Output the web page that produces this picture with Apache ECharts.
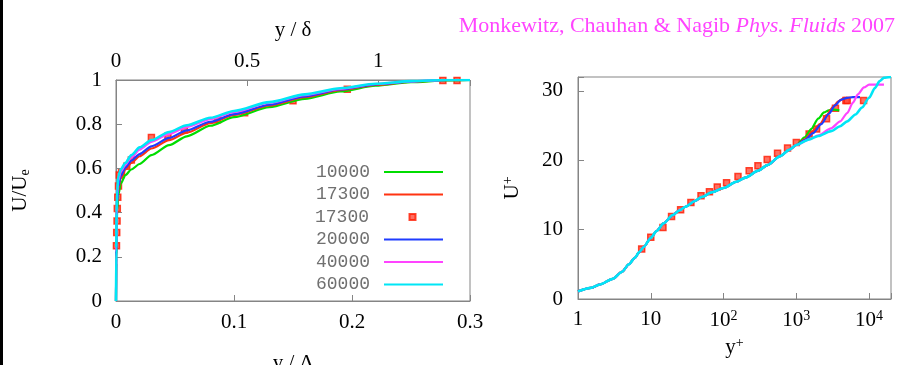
<!DOCTYPE html>
<html><head><meta charset="utf-8">
<script src="https://cdn.jsdelivr.net/npm/echarts@6/dist/echarts.min.js"></script>
<style>html,body{margin:0;padding:0;background:#fff}#c{width:899px;height:365px}</style>
</head><body><div id="c"></div>
<script>
// ---------- Left panel: U/Ue vs y/Delta ----------
const leftV = [0, 0.0002, 0.0005, 0.001, 0.002, 0.004, 0.008, 0.013, 0.02, 0.03, 0.045, 0.06, 0.08, 0.10, 0.13, 0.16, 0.19, 0.22, 0.25, 0.28, 0.30];
const leftU_10000 = [0, 0.17, 0.31, 0.41, 0.48, 0.53, 0.57, 0.595, 0.62, 0.66, 0.705, 0.745, 0.793, 0.832, 0.877, 0.915, 0.948, 0.974, 0.99, 0.998, 1.0];
const leftU_17300 = [0, 0.19, 0.34, 0.44, 0.51, 0.555, 0.595, 0.625, 0.655, 0.69, 0.728, 0.762, 0.805, 0.842, 0.885, 0.922, 0.954, 0.978, 0.992, 0.999, 1.0];
const leftU_20000 = [0, 0.2, 0.35, 0.45, 0.52, 0.565, 0.603, 0.635, 0.665, 0.70, 0.738, 0.772, 0.811, 0.846, 0.888, 0.926, 0.957, 0.98, 0.993, 1.0, 1.0];
const leftU_40000 = [0, 0.22, 0.38, 0.48, 0.545, 0.585, 0.617, 0.65, 0.685, 0.72, 0.756, 0.787, 0.823, 0.855, 0.896, 0.932, 0.96, 0.982, 0.994, 1.0, 1.0];
const leftU_60000 = [0, 0.24, 0.40, 0.50, 0.565, 0.595, 0.625, 0.66, 0.695, 0.728, 0.765, 0.795, 0.829, 0.86, 0.90, 0.935, 0.963, 0.983, 0.995, 1.0, 1.0];
const leftPtsV = [0.0004, 0.0006, 0.0009, 0.0011, 0.0015, 0.0021, 0.0028, 0.0047, 0.0091, 0.013, 0.030, 0.044, 0.058, 0.086, 0.109, 0.150, 0.196, 0.277, 0.289];
const leftPtsU = [0.25, 0.31, 0.362, 0.418, 0.469, 0.52, 0.57, 0.58, 0.61, 0.638, 0.74, 0.745, 0.774, 0.82, 0.852, 0.906, 0.958, 0.998, 0.998];
const leftBottomTicks = [0, 0.1, 0.2, 0.3];
const leftTopTicks = [0, 0.5, 1];
const leftYTicks = [0, 0.2, 0.4, 0.6, 0.8, 1];

// ---------- Right panel: U+ vs y+ ----------
const rightCommonY = [1, 1.5, 2, 3, 4, 5, 6, 7, 8, 10, 12, 15, 20, 25, 30, 40, 50, 70, 100, 150, 200, 300, 400, 600, 800];
const rightCommonU = [1.1, 1.6, 2.1, 2.9, 3.9, 5.0, 5.9, 6.8, 7.5, 8.8, 9.8, 10.9, 12.1, 12.8, 13.3, 14.1, 14.7, 15.4, 16.0, 16.9, 17.5, 18.5, 19.3, 20.6, 21.5];
const tailY_10000 = [1000, 1300, 1600, 2000, 2400, 2800, 3300, 3900];
const tailU_10000 = [22.2, 23.3, 24.5, 26.0, 26.9, 27.2, 27.3, 27.2];
const tailY_17300 = [1000, 1300, 1700, 2100, 2600, 3200, 3800, 4400, 5000];
const tailU_17300 = [22.2, 23.0, 24.2, 25.2, 26.5, 27.7, 28.5, 28.9, 29.0];
const tailY_20000 = [1000, 1300, 1700, 2200, 2800, 3400, 4100, 5000, 6000, 7500];
const tailU_20000 = [22.2, 22.9, 23.9, 25.2, 26.7, 27.9, 28.7, 29.0, 29.1, 29.1];
const tailY_40000 = [1000, 1500, 2000, 3000, 4000, 5000, 6000, 7000, 8500, 10000, 16000];
const tailU_40000 = [22.2, 23.0, 23.6, 24.6, 25.6, 26.8, 28.3, 29.5, 30.5, 30.9, 30.9];
const tailY_60000 = [1000, 1500, 2000, 3000, 4000, 5000, 6500, 8000, 10000, 12000, 14000, 16000, 20000];
const tailU_60000 = [22.2, 23.0, 23.5, 24.2, 24.9, 25.6, 26.6, 27.6, 29.0, 30.4, 31.4, 31.9, 32.0];
const rightPtsY = [7.5, 10, 14.7, 19.3, 25.7, 35.6, 49, 64, 82, 110, 158, 225, 297, 398, 552, 758, 1000, 1500, 1900, 2600, 3450, 4800, 5000, 8400];
const rightPtsU = [7.2, 8.9, 10.3, 11.9, 12.85, 13.9, 14.9, 15.45, 16.15, 16.75, 17.65, 18.5, 19.2, 20.1, 21.0, 21.75, 22.55, 23.8, 24.5, 26.0, 27.5, 28.6, 28.6, 28.6];
const rightYTicks = [0, 10, 20, 30];

const names = ['10000', '17300', '17300 pts', '20000', '40000', '60000'];
const colors = {'10000': '#00dd00', '17300': '#ff3311', '17300 pts': '#ff3311', '20000': '#1f3cff', '40000': '#ff44ff', '60000': '#00e6f6'};

function zip(a, b) { return a.map((v, i) => [v, b[i]]); }
function joinCurve(ty, tu) { return zip(rightCommonY.concat(ty), rightCommonU.concat(tu)); }

const serif = 'Liberation Serif';
const tickFont = {fontFamily: serif, fontSize: 21, color: '#000'};
const gray = '#858585';

function lineSeries(name, data, xi, yi, width, z) {
  return {type: 'line', name: name, xAxisIndex: xi, yAxisIndex: yi, data: data,
    showSymbol: false, symbol: 'none', smooth: 0.25, smoothMonotone: 'x', clip: true, z: z,
    lineStyle: {color: colors[name], width: width}, itemStyle: {color: colors[name]}};
}
function ptsSeries(data, xi, yi) {
  return {type: 'scatter', name: '17300 pts', xAxisIndex: xi, yAxisIndex: yi, data: data,
    symbol: 'rect', symbolSize: 6, z: 1,
    itemStyle: {color: '#ff4a3a', borderColor: '#ff1a00', borderWidth: 1.5}};
}

const supRich = {s: {fontFamily: serif, fontSize: 14, color: '#000', verticalAlign: 'top', padding: [0, 0, 9, 0]}};

const legendRows = [172, 194.5, 217, 239.5, 262, 284.5];
const legends = names.map((n, i) => {
  const isPts = n === '17300 pts';
  return {
    data: [n], orient: 'vertical', align: 'right', padding: 0,
    right: isPts ? 899 - 416.5 : 899 - 443,
    top: legendRows[i] - 11,
    itemWidth: isPts ? 6 : 59, itemHeight: isPts ? 6 : 2,
    icon: 'rect', selectedMode: false,
    formatter: () => n.split(' ')[0],
    textStyle: {fontFamily: 'Liberation Mono', fontSize: 18, color: '#707070', lineHeight: 22,
      padding: isPts ? [0, 35.5, 0, 0] : [0, 9, 0, 0]}
  };
});

const option = {
  backgroundColor: '#fff',
  animation: false,
  title: {
    text: '{n|Monkewitz, Chauhan & Nagib }{i|Phys. Fluids}{n| 2007}',
    right: 4, top: 15, padding: 0,
    textStyle: {fontWeight: 'normal', rich: {
      n: {fontFamily: serif, fontSize: 22, fontWeight: 'normal', color: '#ff44ff'},
      i: {fontFamily: serif, fontSize: 22, fontWeight: 'normal', fontStyle: 'italic', color: '#ff44ff'}
    }}
  },
  legend: legends,
  graphic: [{type: 'rect', left: 0, top: 0, shape: {width: 3, height: 365}, style: {fill: '#000'}}],
  grid: [
    {left: 116, top: 80, width: 354, height: 221, outerBoundsMode: 'none', containLabel: false, show: true, borderColor: gray, borderWidth: 1, backgroundColor: 'transparent'},
    {left: 578, top: 77, width: 313, height: 222, outerBoundsMode: 'none', containLabel: false, show: true, borderColor: gray, borderWidth: 1, backgroundColor: 'transparent'}
  ],
  xAxis: [
    {type: 'value', gridIndex: 0, position: 'bottom', min: 0, max: 0.3, interval: 0.1,
      axisLine: {show: true, lineStyle: {color: gray}}, axisTick: {inside: true, length: 6, lineStyle: {color: gray}},
      splitLine: {show: false},
      axisLabel: Object.assign({margin: 11, formatter: v => leftBottomTicks.some(t => Math.abs(t - v) < 1e-9) ? String(+v.toFixed(1)) : ''}, tickFont),
      name: 'y / Δ', nameLocation: 'middle', nameGap: 52, nameTextStyle: {fontFamily: serif, fontSize: 21, color: '#000'}},
    {type: 'value', gridIndex: 0, position: 'top', min: 0, max: 1.35, interval: 0.5,
      axisLine: {show: true, lineStyle: {color: gray}}, axisTick: {inside: true, length: 6, lineStyle: {color: gray}},
      splitLine: {show: false},
      axisLabel: Object.assign({margin: 8, formatter: v => leftTopTicks.some(t => Math.abs(t - v) < 1e-9) ? String(v) : ''}, tickFont),
      name: 'y / δ', nameLocation: 'middle', nameGap: 39, nameTextStyle: {fontFamily: serif, fontSize: 21, color: '#000'}},
    {type: 'log', gridIndex: 1, logBase: 10, min: 1, max: 20000,
      axisLine: {show: true, lineStyle: {color: gray}}, axisTick: {inside: true, length: 6, lineStyle: {color: gray}},
      splitLine: {show: false}, minorTick: {show: false},
      axisLabel: Object.assign({margin: 10, rich: supRich, formatter: v => {
        const e = Math.log10(v); const r = Math.round(e);
        if (Math.abs(e - r) > 1e-6) return '';
        if (r === 0) return '1';
        if (r === 1) return '10';
        return '10{s|' + r + '}';
      }}, tickFont),
      name: 'y{s|+}', nameLocation: 'middle', nameGap: 36,
      nameTextStyle: {fontFamily: serif, fontSize: 21, color: '#000', rich: supRich}}
  ],
  yAxis: [
    {type: 'value', gridIndex: 0, min: 0, max: 1, interval: 0.2,
      axisLine: {show: true, lineStyle: {color: gray}}, axisTick: {inside: true, length: 6, lineStyle: {color: gray}},
      splitLine: {show: false},
      axisLabel: Object.assign({margin: 14, formatter: v => leftYTicks.some(t => Math.abs(t - v) < 1e-9) ? String(+v.toFixed(1)) : ''}, tickFont),
      name: 'U/U{e|e}', nameLocation: 'middle', nameGap: 84, nameRotate: 90,
      nameTextStyle: {fontFamily: serif, fontSize: 21, color: '#000',
        rich: {e: {fontFamily: serif, fontSize: 14, color: '#000', verticalAlign: 'bottom', padding: [10, 0, 0, 0]}}}},
    {type: 'value', gridIndex: 1, min: 0, max: 32, interval: 10,
      axisLine: {show: true, lineStyle: {color: gray}}, axisTick: {inside: true, length: 6, lineStyle: {color: gray}},
      splitLine: {show: false},
      axisLabel: Object.assign({margin: 15, formatter: v => rightYTicks.indexOf(v) >= 0 ? String(v) : ''}, tickFont),
      name: 'U{s|+}', nameLocation: 'middle', nameGap: 54, nameRotate: 90,
      nameTextStyle: {fontFamily: serif, fontSize: 21, color: '#000', rich: supRich}}
  ],
  series: [
    ptsSeries(zip(leftPtsV, leftPtsU), 0, 0),
    lineSeries('10000', zip(leftV, leftU_10000), 0, 0, 2.2, 2),
    lineSeries('17300', zip(leftV, leftU_17300), 0, 0, 2.2, 3),
    lineSeries('20000', zip(leftV, leftU_20000), 0, 0, 2.2, 4),
    lineSeries('40000', zip(leftV, leftU_40000), 0, 0, 2.2, 5),
    lineSeries('60000', zip(leftV, leftU_60000), 0, 0, 2.6, 6),
    ptsSeries(zip(rightPtsY, rightPtsU), 2, 1),
    lineSeries('10000', joinCurve(tailY_10000, tailU_10000), 2, 1, 2.2, 2),
    lineSeries('17300', joinCurve(tailY_17300, tailU_17300), 2, 1, 2.2, 3),
    lineSeries('20000', joinCurve(tailY_20000, tailU_20000), 2, 1, 2.2, 4),
    lineSeries('40000', joinCurve(tailY_40000, tailU_40000), 2, 1, 2.2, 5),
    lineSeries('60000', joinCurve(tailY_60000, tailU_60000), 2, 1, 2.6, 6)
  ]
};
const chart = echarts.init(document.getElementById('c'), null, {renderer: 'canvas'});
chart.setOption(option);
</script></body></html>
